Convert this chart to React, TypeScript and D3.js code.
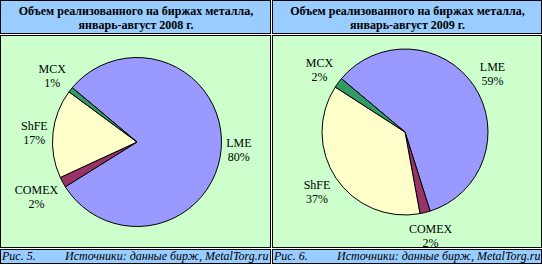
import React from "react";
import * as d3 from "d3";

const exchanges = ["LME", "COMEX", "ShFE", "MCX"];
const share2008 = [80, 2, 17, 1];
const share2009 = [59, 2, 37, 2];
const sliceColors = ["#9999FF", "#993366", "#FFFFCC", "#339966"];
const titles2008 = ["Объем реализованного на биржах металла,", "январь-август 2008 г."];
const titles2009 = ["Объем реализованного на биржах металла,", "январь-август 2009 г."];
const figLabels = ["Рис. 5.", "Рис. 6."];
const sourceText = "Источники: данные бирж, MetalTorg.ru";

const W = 542;
const H = 265;
const FONT = "Liberation Serif";

let ctx: CanvasRenderingContext2D | null = null;
function measure(t: string, font: string) {
  if (!ctx) ctx = document.createElement("canvas").getContext("2d");
  if (!ctx) return t.length * 6.5;
  ctx.font = font;
  return ctx.measureText(t).width;
}

type PieProps = { values: number[]; cx: number; cy: number; r: number };

function Pie({ values, cx, cy, r }: PieProps) {
  const start = (-50 * Math.PI) / 180;
  const data = exchanges.map((name, i) => ({ name, value: values[i], color: sliceColors[i] }));
  const pie = d3
    .pie<{ name: string; value: number; color: string }>()
    .sort(null)
    .value((d) => d.value)
    .startAngle(start)
    .endAngle(start + 2 * Math.PI);
  const arcs = pie(data);
  const arc = d3.arc<d3.PieArcDatum<any>>().innerRadius(0).outerRadius(r);
  const total = d3.sum(values);
  return (
    <g transform={`translate(${cx},${cy})`}>
      {arcs.map((a, i) => (
        <path key={i} d={arc(a) || ""} fill={a.data.color} stroke="#000" strokeWidth={1} />
      ))}
      {arcs.map((a, i) => {
        const mid = (a.startAngle + a.endAngle) / 2;
        const sx = Math.sin(mid);
        const sy = -Math.cos(mid);
        const pct = `${Math.round((a.data.value / total) * 100)}%`;
        const w = Math.max(measure(a.data.name, `12px "${FONT}"`), measure(pct, `12px "${FONT}"`));
        const h = 28;
        const dist = r + 4 + Math.abs(sx) * (w / 2) + Math.abs(sy) * (h / 2);
        const lx = sx * dist;
        const ly = sy * dist;
        return (
          <g key={"l" + i} style={{ fontFamily: `"${FONT}", serif`, fontSize: "12px" }} textAnchor="middle" fill="#000">
            <text x={lx} y={ly - 2}>{a.data.name}</text>
            <text x={lx} y={ly + 12}>{pct}</text>
          </g>
        );
      })}
    </g>
  );
}

function Panel({ x0, x1, titles, fig, values, cx, cy, r }: any) {
  const w = x1 - x0;
  return (
    <g>
      <rect x={x0 + 0.5} y={0.5} width={w} height={33} fill="#99CCFF" stroke="#000" />
      <rect x={x0 + 0.5} y={35.5} width={w} height={212} fill="#CCFFCC" stroke="#000" />
      <rect x={x0 + 0.5} y={249.5} width={w} height={14} fill="#99CCFF" stroke="#000" />
      <g style={{ fontFamily: `"${FONT}", serif`, fontSize: "12px", fontWeight: "bold" }} textAnchor="middle">
        <text x={x0 + w / 2 + 1} y={15}>{titles[0]}</text>
        <text x={x0 + w / 2 + 1} y={29}>{titles[1]}</text>
      </g>
      <g style={{ fontFamily: `"${FONT}", serif`, fontSize: "12px", fontStyle: "italic" }}>
        <text x={x0 + 2} y={259.5}>{fig}</text>
        <text x={x0 + 65} y={259.5}>{sourceText}</text>
      </g>
      <Pie values={values} cx={cx} cy={cy} r={r} />
    </g>
  );
}

export default function App() {
  return (
    <svg width={W} height={H} style={{ position: "absolute", left: 0, top: 0, display: "block" }}>
      <rect x={0} y={0} width={W} height={H} fill="#fff" />
      <Panel x0={0} x1={270} titles={titles2008} fig={figLabels[0]} values={share2008} cx={137} cy={142} r={84.5} />
      <Panel x0={272} x1={541} titles={titles2009} fig={figLabels[1]} values={share2009} cx={405} cy={132} r={83} />
    </svg>
  );
}
